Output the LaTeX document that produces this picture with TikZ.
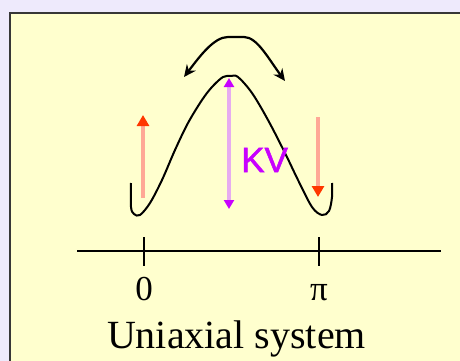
\documentclass[tikz,border=0pt]{standalone}
\usepackage{fontspec}
\setmainfont{Liberation Serif}
\newfontface\kvfont{Liberation Sans}[FakeBold=1.6]
\usetikzlibrary{arrows.meta, positioning, calc}
\definecolor{cLavender}{RGB}{238,234,252}
\definecolor{cPanel}{RGB}{255,255,206}
\definecolor{cFrame}{RGB}{55,55,55}
\definecolor{cSalmon}{RGB}{255,168,150}
\definecolor{cRed}{RGB}{255,55,0}
\definecolor{cLilac}{RGB}{230,172,240}
\definecolor{cViolet}{RGB}{200,0,255}
\tikzset{
	energy/.style={line width=2pt, draw=black, line join=round},
	axisline/.style={line width=1.4pt, draw=black},
	spinarrow/.style={line width=3.8pt, draw=cSalmon, -{Triangle[width=12pt, length=11pt, color=cRed]}},
	barrier/.style={line width=3.4pt, draw=cLilac, {Triangle[width=10pt, length=9pt, color=cViolet]}-{Triangle[width=10pt, length=9pt, color=cViolet]}},
	hop/.style={line width=2.2pt, draw=black, line join=round, {Stealth[width=11pt, length=12pt]}-{Stealth[width=11pt, length=12pt]}},
	% tick labels under the axis
	ticklabel/.style={anchor=base, inner sep=0pt, font=\fontsize{35}{35}\selectfont},
}
\begin{document}
\begin{tikzpicture}[x=1pt, y=-1pt]
	\useasboundingbox (0,0) rectangle (460,361);
	\fill[cLavender] (0,0) rectangle (460,361);
	\draw[line width=2pt, draw=cFrame, fill=cPanel] (10,13) rectangle (475,375);

	% energy landscape
	\draw[energy] plot[smooth, tension=0.55] coordinates {(131,183) (131,207) (134,214) (140,215)
		(150,203) (162,180) (175,150) (188,123) (202,100) (212,87) (223,77) (231,76) (238,77)
		(252,93) (268,120) (285,153) (298,180) (312,207) (322,215) (329,211) (332,197) (332,183)};

	% axis with ticks
	\coordinate (axL) at (77,251);
	\coordinate (axR) at (441,251);
	\coordinate (t0) at (144,251);
	\coordinate (tpi) at (319,251);
	\draw[axisline] (axL) -- (axR);
	\draw[axisline] ($(t0)+(0,-14)$) -- ($(t0)+(0,15)$);
	\draw[axisline] ($(tpi)+(0,-14)$) -- ($(tpi)+(0,15)$);
	\node[ticklabel] (zero) at (144,300) {0};
	\node[ticklabel] (pi) at (319,300) {π};
	\node[anchor=base, inner sep=0pt, font=\fontsize{40}{40}\selectfont] (caption) at (236.5,348) {Uniaxial system};

	% spins in the two minima
	\coordinate (upS) at (143,198);
	\coordinate (upE) at (143,115);
	\coordinate (dnS) at (318,117);
	\coordinate (dnE) at (318,197);
	\draw[spinarrow] (upS) -- (upE);
	\draw[spinarrow] (dnS) -- (dnE);

	% barrier height
	\coordinate (kvT) at (229,78);
	\coordinate (kvB) at (229,209);
	\draw[barrier] (kvT) -- (kvB);
	\node[anchor=base west, inner sep=0pt, text=cViolet, font=\kvfont\fontsize{35}{35}\selectfont] (kv) at (241,172) {KV};

	% switching over the barrier
	\coordinate (hopL) at (184,77);
	\coordinate (hopR) at (285,81);
	\draw[hop] (hopL) .. controls (200,56) and (214,37) .. (228,37) -- (244,37) .. controls (257,37) and (268,58) .. (hopR);
\end{tikzpicture}
\end{document}
